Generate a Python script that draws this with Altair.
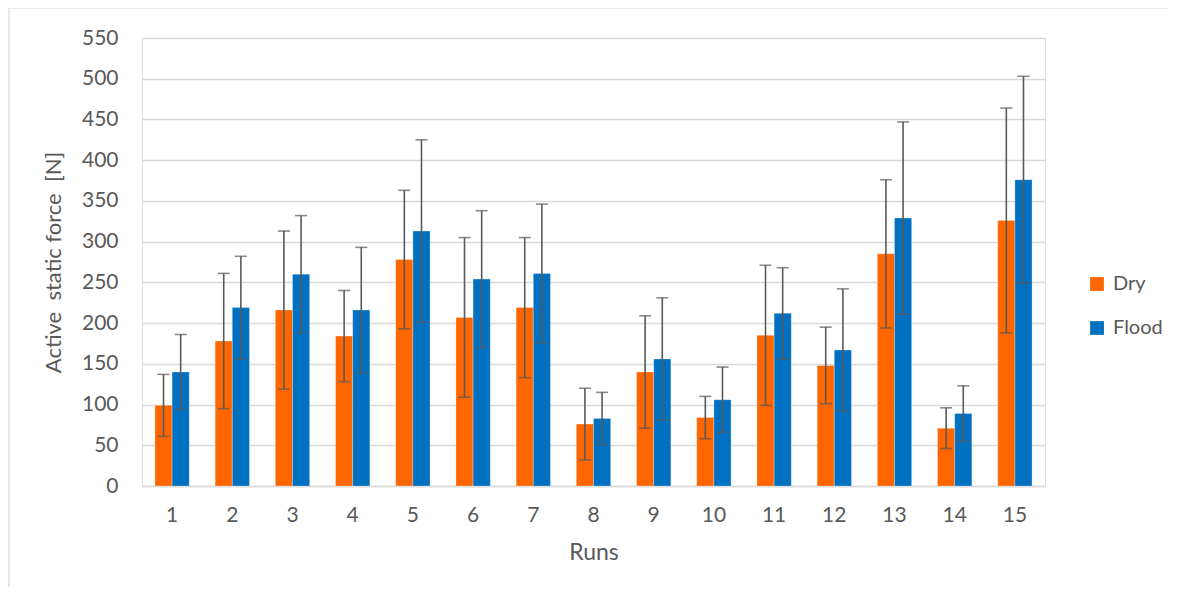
import altair as alt
import pandas as pd

runs = [str(i) for i in range(1, 16)]
series = ["Dry", "Flood"]
dry_mean = [99, 178, 216, 184, 278, 207, 219, 76, 140, 84, 185, 148, 285, 71, 326]
dry_sd = [38, 83, 97, 56, 85, 98, 86, 44, 69, 26, 86, 47, 91, 25, 138]
flood_mean = [140, 219, 260, 216, 313, 254, 261, 83, 156, 106, 212, 167, 329, 89, 376]
flood_sd = [46, 63, 72, 77, 112, 84, 85, 32, 75, 40, 56, 75, 118, 34, 127]
y_ticks = list(range(0, 551, 50))
colors = ["#FF6600", "#0070C0"]

rows = []
for i, r in enumerate(runs):
    rows.append({"Run": r, "Series": "Dry", "Value": dry_mean[i], "SD": dry_sd[i]})
    rows.append({"Run": r, "Series": "Flood", "Value": flood_mean[i], "SD": flood_sd[i]})
df = pd.DataFrame(rows)

FONT = "Lato"
GRAY = "#595959"
W, H = 903, 448

base = alt.Chart(df).transform_calculate(
    lo="datum.Value - datum.SD", hi="datum.Value + datum.SD"
)

x_enc = alt.X(
    "Run:O", sort=runs,
    scale=alt.Scale(paddingInner=0.43, paddingOuter=0.215),
    axis=alt.Axis(title="Runs", labelAngle=0, ticks=False, domainColor="#d9d9d9",
                  domainWidth=1.5, labelPadding=18, titlePadding=16,
                  labelFontSize=21, titleFontSize=23, labelColor=GRAY,
                  titleColor=GRAY, labelFont=FONT, titleFont=FONT,
                  titleFontWeight="normal"),
)
xo = alt.XOffset("Series:N", sort=series, scale=alt.Scale(paddingInner=0, paddingOuter=0))

bars = base.mark_bar(stroke="#ffffff", strokeOpacity=0.35, strokeWidth=0.8).encode(
    x=x_enc,
    xOffset=xo,
    y=alt.Y("Value:Q", scale=alt.Scale(domain=[0, 550], nice=False),
            axis=alt.Axis(title="Active\u00a0 static force\u00a0 [N]", values=y_ticks,
                          domain=False, ticks=False, gridColor="#d9d9d9",
                          gridWidth=1.5, labelPadding=24, titlePadding=16,
                          labelFontSize=21, titleFontSize=22, labelColor=GRAY,
                          titleColor=GRAY, labelFont=FONT, titleFont=FONT,
                          titleFontWeight="normal")),
    color=alt.Color("Series:N", sort=series,
                    scale=alt.Scale(domain=series, range=colors),
                    legend=alt.Legend(title=None, orient="none", legendX=945,
                                      legendY=236, symbolType="square",
                                      symbolSize=190, symbolStrokeWidth=0,
                                      labelFontSize=20, labelFont=FONT,
                                      labelColor=GRAY, rowPadding=24,
                                      labelOffset=6, padding=0)),
)

err = base.mark_rule(color=GRAY, strokeWidth=1.6).encode(
    x=alt.X("Run:O", sort=runs), xOffset=xo,
    y="lo:Q", y2="hi:Q",
)
cap_lo = base.mark_tick(color=GRAY, thickness=1.6, size=12).encode(
    x=alt.X("Run:O", sort=runs), xOffset=xo, y="lo:Q",
)
cap_hi = base.mark_tick(color=GRAY, thickness=1.6, size=12).encode(
    x=alt.X("Run:O", sort=runs), xOffset=xo, y="hi:Q",
)

one = pd.DataFrame({"a": [0]})
frame_top = alt.Chart(one).mark_rule(color="#d9d9d9", strokeWidth=1.2).encode(
    x=alt.value(-133), x2=alt.value(W + 140), y=alt.value(-30)
)
frame_left = alt.Chart(one).mark_rule(color="#d9d9d9", strokeWidth=1.2).encode(
    x=alt.value(-133), y=alt.value(-30), y2=alt.value(H + 120)
)

chart = alt.layer(frame_top, frame_left, bars, err, cap_lo, cap_hi).properties(
    width=W, height=H,
    autosize=alt.AutoSizeParams(type="none"),
    padding={"left": 134, "top": 30, "right": 124, "bottom": 101},
).configure_view(stroke=None).configure(background="white")

chart.save("out.html", embed_options={"renderer": "svg", "actions": False})
